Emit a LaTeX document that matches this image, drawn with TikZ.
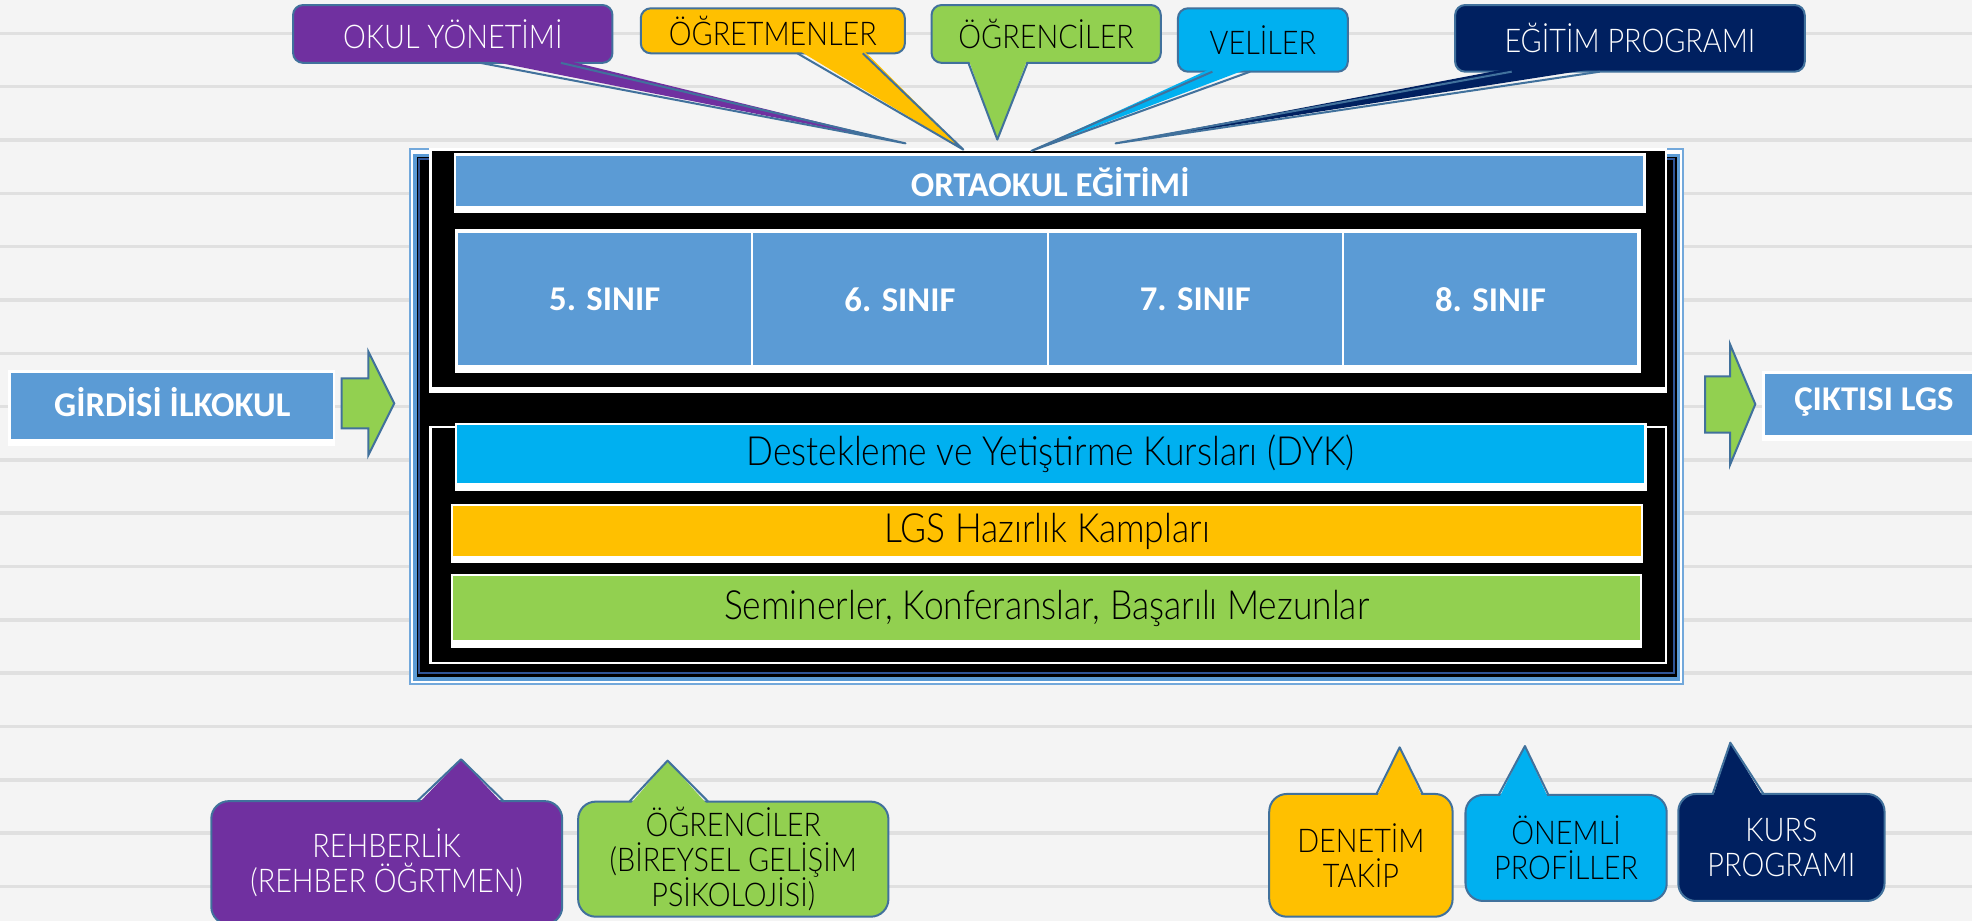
\documentclass[tikz,border=0pt]{standalone}
\usepackage{fontspec}
\setmainfont{Carlito}
\newfontfamily\lightfont{Lato Light}[FakeStretch=0.88]
\definecolor{cBg}{HTML}{F4F4F4}
\definecolor{cGrid}{HTML}{E0E0E0}
\definecolor{cPurple}{HTML}{7030A0}
\definecolor{cYellow}{HTML}{FFC000}
\definecolor{cGreen}{HTML}{92D050}
\definecolor{cCyan}{HTML}{00B0F0}
\definecolor{cNavy}{HTML}{002060}
\definecolor{cBlue}{HTML}{5B9BD5}
\definecolor{cLtBlue}{HTML}{72A8DB}
\definecolor{cDkBlue}{HTML}{2F5597}
\definecolor{cEdge}{HTML}{41719C}
\newcommand\calltail[7]{%
  \fill[#1] (#2,#4+#7) -- (#5,#6) -- (#3,#4+#7) -- cycle;
  \draw[tailedge] (#2,#4) -- (#5,#6) -- (#3,#4);}
\tikzset{
  tailedge/.style={draw=cEdge, line width=0.8pt, line join=round},
  callbox/.style={draw=cEdge, line width=0.8pt, rounded corners=4pt, inner sep=0pt, align=center,
    font=\lightfont\fontsize{13}{14}\selectfont},
  callboxB/.style={callbox, rounded corners=7pt},
  boldlbl/.style={inner sep=0pt, text=white, font=\bfseries\fontsize{13.8}{15}\selectfont},
  barlbl/.style={inner sep=0pt, text=black, font=\lightfont\fontsize{16}{18}\selectfont},
  arrowshape/.style={fill=cGreen, draw=cEdge, line width=0.8pt, line join=miter},
}
\begin{document}
\begin{tikzpicture}[x=0.5pt,y=-0.5pt]
\useasboundingbox (0,0) rectangle (1568,732);
\fill[cBg] (0,0) rectangle (1568,732);
\foreach \k in {0,...,16} \draw[cGrid, line width=1.4pt] (0,26.5+42.4*\k) -- (1568,26.5+42.4*\k);

% ---------- main frame ----------
\draw[cLtBlue, line width=0.85pt, fill=white] (326,118.8) rectangle (1338.2,543.9);
\draw[cBlue, line width=1.4pt, fill=black] (330,123.5) rectangle (1334.5,539.7);
\draw[cDkBlue, line width=0.8pt] (333.5,126.5) rectangle (1331,535.4);

% top panel
\fill[white] (341.3,118) rectangle (1325.7,312.7);
\fill[black] (343.2,120) rectangle (1323.9,307.4);
% lower panel
\fill[white] (341.3,338.5) rectangle (1325.7,528);
\fill[black] (343.2,340.6) rectangle (1323.9,526);

% ORTAOKUL bar
\fill[white] (360.9,121.9) rectangle (1308.5,169.5);
\node[fill=cBlue, minimum width=471.95pt, minimum height=19.9pt, inner sep=0pt] (orta) at (834.65,143.9) {};
\node[boldlbl] (ortatxt) at (835,145) {ORTAOKUL EĞİTİMİ};

% grades
\fill[white] (361.5,182) rectangle (1304.5,296.8);
\foreach \i/\n in {0/5,1/6,2/7,3/8}{
  \node[fill=cBlue, draw=white, line width=0.7pt, minimum width=117.3pt, minimum height=53.1pt, inner sep=0pt, boldlbl]
    (g\n) at (480.8+234.8*\i,238) {\n. SINIF};
}

% DYK / LGS / Seminer
\fill[white] (361.4,336.5) rectangle (1309.3,390.5);
\node[fill=cCyan, minimum width=472.15pt, minimum height=22.9pt, inner sep=0pt, barlbl] (dyk) at (835.25,360.9) {Destekleme ve Yetiştirme Kursları (DYK)};
\fill[white] (358.6,400.5) rectangle (1306.6,447.5);
\node[fill=cYellow, minimum width=472.1pt, minimum height=19.85pt, inner sep=0pt, barlbl] (lgs) at (832.6,422.15) {LGS Hazırlık Kampları};
\fill[white] (358.6,456.5) rectangle (1305.8,515.5);
\node[fill=cGreen, minimum width=471.75pt, minimum height=25.35pt, inner sep=0pt, barlbl] (sem) at (832.25,483.55) {Seminerler, Konferanslar, Başarılı Mezunlar};

% ---------- input / output ----------
\fill[white] (6.7,294.3) rectangle (266.7,354.6);
\node[fill=cBlue, minimum width=127.9pt, minimum height=26.25pt, inner sep=0pt] (girdi) at (136.6,323.05) {};
\node[boldlbl] (girditxt) at (137,319.5) {GİRDİSİ İLKOKUL};

\fill[white] (1401,295) rectangle (1580,350.8);
\node[fill=cBlue, minimum width=88.5pt, minimum height=24.15pt, inner sep=0pt] (cikti) at (1491.5,321.35) {};
\node[boldlbl] (ciktitxt) at (1490,319.5) {ÇIKTISI LGS};

% arrows
\draw[arrowshape] (271.7,300.8) -- (292.9,300.8) -- (292.9,279.6) -- (313.5,320.7) -- (292.9,361.8) -- (292.9,340.6) -- (271.7,340.6) -- cycle;
\draw[arrowshape] (1355.7,299.2) -- (1375.6,299.2) -- (1375.6,273.7) -- (1395.7,321.4) -- (1375.6,369.6) -- (1375.6,344) -- (1355.7,344) -- cycle;

% ---------- top callouts ----------
\node[callbox, fill=cPurple, text=white, minimum width=127pt, minimum height=23pt] (okul) at (360,27) {OKUL YÖNETİMİ};
\calltail{cPurple}{382}{446}{50}{720}{114}{-3}
\node[callbox, fill=cYellow, text=black, minimum width=105pt, minimum height=17.9pt] (ogret) at (614.5,24.5) {ÖĞRETMENLER};
\calltail{cYellow}{634}{686}{42.4}{766}{119}{-3}
\node[callbox, fill=cGreen, text=black, minimum width=91.15pt, minimum height=23pt] (ogrenci) at (831.85,27) {ÖĞRENCİLER};
\calltail{cGreen}{770}{817}{50}{793}{111}{-3}
\node[callbox, fill=cCyan, text=black, minimum width=67.55pt, minimum height=25.2pt] (veli) at (1004.15,31.8) {VELİLER};
\calltail{cCyan}{964}{994}{57}{820}{120}{-3}
\node[callbox, fill=cNavy, text=white, minimum width=139pt, minimum height=26.5pt] (egitim) at (1296,30.5) {EĞİTİM PROGRAMI};
\calltail{cNavy}{1202}{1272}{57}{887}{114}{-3}

% ---------- bottom callouts ----------
\node[callboxB, fill=cPurple, text=white, minimum width=139.5pt, minimum height=49pt] (rehber) at (307.5,686) {REHBERLİK\\(REHBER ÖĞRTMEN)};
\calltail{cPurple}{331.3}{400.9}{637.4}{366.6}{603.7}{3}
\node[callboxB, fill=cGreen, text=black, minimum width=123.35pt, minimum height=45.75pt] (ogrenci2) at (583.05,683.15) {ÖĞRENCİLER\\(BİREYSEL GELİŞİM\\PSİKOLOJİSİ)};
\calltail{cGreen}{500.4}{563.1}{637.4}{530.8}{604.8}{3}
\node[callboxB, fill=cYellow, text=black, minimum width=72.9pt, minimum height=48.8pt] (denetim) at (1082.1,680.1) {DENETİM\\TAKİP};
\calltail{cYellow}{1094.5}{1131.2}{631.3}{1112.9}{594.2}{3}
\node[callboxB, fill=cCyan, text=black, minimum width=80pt, minimum height=42.15pt] (onemli) at (1245.25,674.25) {ÖNEMLİ\\PROFİLLER};
\calltail{cCyan}{1191.6}{1231.2}{632.1}{1212.5}{593.2}{3}
\node[callboxB, fill=cNavy, text=white, minimum width=82pt, minimum height=42.55pt] (kurs) at (1416.45,673.85) {KURS\\PROGRAMI};
\calltail{cNavy}{1361.8}{1402.2}{631.3}{1375.8}{590.5}{3}
\end{tikzpicture}
\end{document}
